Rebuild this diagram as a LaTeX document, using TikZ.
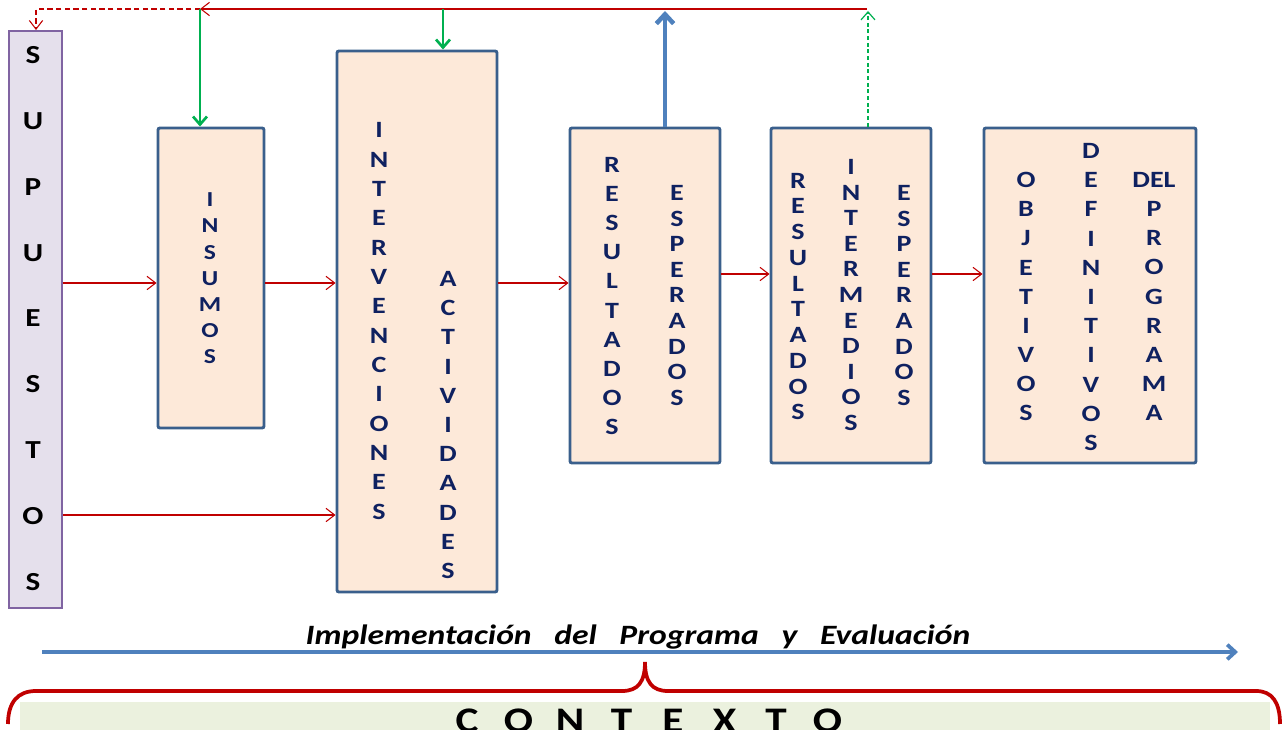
\documentclass[tikz,border=0pt]{standalone}
\usepackage{fontspec}
\setmainfont{Carlito}[FakeStretch=1.2]
\usetikzlibrary{arrows.meta,positioning,calc}
\definecolor{boxfill}{HTML}{FDE9D9}
\definecolor{boxline}{HTML}{3A5F8C}
\definecolor{supfill}{HTML}{E5E0EC}
\definecolor{supline}{HTML}{8064A2}
\definecolor{navy}{HTML}{0F2160}
\definecolor{flowred}{HTML}{C00000}
\definecolor{flowgreen}{HTML}{00B050}
\definecolor{flowblue}{HTML}{4F81BD}
\definecolor{ctxfill}{HTML}{EBF1DE}
\tikzset{
  stage/.style={draw=boxline, line width=2.2pt, fill=boxfill, rounded corners=1.5pt, inner sep=0pt},
  supbox/.style={draw=supline, line width=1.5pt, fill=supfill, inner sep=0pt},
  colstack/.style={align=center, inner sep=0pt, text=navy, font=\bfseries\fontsize{17.5}{#1}\selectfont},
  flow/.style={draw=flowred, line width=0.8pt, -{Straight Barb[length=6.5pt,width=10pt]}},
  feed/.style={draw=flowgreen, line width=2pt, -{Straight Barb[length=6pt,width=10.5pt]}},
  rise/.style={draw=flowblue, line width=3.4pt, -{Straight Barb[length=6pt,width=11pt]}},
  ctxletter/.style={anchor=north, inner sep=0pt, font=\bfseries\fontsize{27}{30}\selectfont}
}
\begin{document}
\begin{tikzpicture}[x=0.75pt, y=-0.75pt]
  \useasboundingbox (0,0) rectangle (1283,730);
  \clip (0,0) rectangle (1283,730);
  % boxes
  \node[supbox, minimum width=39.75pt, minimum height=432.75pt] (sup) at (35.5,319.5) {};
  \node[stage, minimum width=79.5pt, minimum height=225pt] (ins) at (211,278) {};
  \node[stage, minimum width=120pt, minimum height=405.75pt] (int) at (417,321.5) {};
  \node[stage, minimum width=112.5pt, minimum height=251.25pt] (res) at (645,295.5) {};
  \node[stage, minimum width=120pt, minimum height=251.25pt] (rie) at (851,295.5) {};
  \node[stage, minimum width=159pt, minimum height=251.25pt] (obj) at (1090,295.5) {};
  % vertical words
  \node[colstack=49.4pt, text=black, font=\bfseries\fontsize{19.5}{49.4}\selectfont] (supTxt) at (33,318.5) {S\\U\\P\\U\\E\\S\\T\\O\\S};
  \node[colstack=19.65pt, font=\bfseries\fontsize{16}{19.65}\selectfont] (insTxt) at (210,278.5) {I\\N\\S\\U\\M\\O\\S};
  \node[colstack=22pt] (intTxt) at (379,321) {I\\N\\T\\E\\R\\V\\E\\N\\C\\I\\O\\N\\E\\S};
  \node[colstack=21.9pt] (actTxt) at (448,425) {A\\C\\T\\I\\V\\I\\D\\A\\D\\E\\S};
  \node[colstack=21.8pt] (resTxt) at (612,296) {R\\E\\S\\U\\L\\T\\A\\D\\O\\S};
  \node[colstack=19.2pt] (espTxt) at (677,295.5) {E\\S\\P\\E\\R\\A\\D\\O\\S};
  \node[colstack=19.3pt] (rieTxtA) at (798,296.5) {R\\E\\S\\U\\L\\T\\A\\D\\O\\S};
  \node[colstack=19.2pt] (rieTxtB) at (851,295) {I\\N\\T\\E\\R\\M\\E\\D\\I\\O\\S};
  \node[colstack=19.2pt] (rieTxtC) at (904,295.5) {E\\S\\P\\E\\R\\A\\D\\O\\S};
  \node[colstack=21.8pt] (objTxtA) at (1026,296.5) {O\\B\\J\\E\\T\\I\\V\\O\\S};
  \node[colstack=21.9pt] (objTxtB) at (1091,297) {D\\E\\F\\I\\N\\I\\T\\I\\V\\O\\S};
  \node[colstack=21.8pt] (objTxtC) at (1154,296.5) {DEL\\P\\R\\O\\G\\R\\A\\M\\A};
  % forward links
  \coordinate (rowA) at (0,283);
  \coordinate (rowB) at (0,515);
  \coordinate (rowC) at (0,274);
  \draw[flow] (sup.east |- rowA) -- (ins.west |- rowA);
  \draw[flow] (ins.east |- rowA) -- (int.west |- rowA);
  \draw[flow] (sup.east |- rowB) -- (int.west |- rowB);
  \draw[flow] (int.east |- rowA) -- (res.west |- rowA);
  \draw[flow] (res.east |- rowC) -- (rie.west |- rowC);
  \draw[flow] (rie.east |- rowC) -- (obj.west |- rowC);
  % feedback loop on top
  \coordinate (loopR) at (867,9);
  \coordinate (loopI) at (200,9);
  \coordinate (loopA) at (443,9);
  \coordinate (loopS) at (36,9);
  \coordinate (upB) at (665,11);
  \coordinate (upG) at (868,11);
  \draw[flow] (loopR) -- (loopI);
  \draw[flow, dash pattern=on 4pt off 2.5pt] (loopI) -- (loopS) -- (loopS |- sup.north);
  \draw[feed] (loopI) -- (ins.north -| loopI);
  \draw[feed] (loopA) -- (int.north -| loopA);
  \draw[rise, -{Straight Barb[length=7pt,width=13pt]}] (res.north -| upB) -- (upB);
  \draw[feed, line width=0.9pt, dash pattern=on 3pt off 2pt] (rie.north -| upG) -- (upG);
  % time line
  \coordinate (tlS) at (42,652);
  \coordinate (tlE) at (1238,652);
  \draw[rise, line width=2.8pt] (tlS) -- (tlE);
  \node[font=\bfseries\itshape\fontsize{21}{25}\selectfont, inner sep=0pt] (impl) at (638,637)
    {Implementación\hskip17pt del\hskip17pt Programa\hskip17pt y\hskip17pt Evaluación};
  % context
  \draw[flowred, line width=2.8pt] (8,724) .. controls (8,702) and (18,691) .. (36,691) -- (622,691)
    .. controls (638,691) and (645,682) .. (645,662) .. controls (645,682) and (652,691) .. (668,691)
    -- (1256,691) .. controls (1272,691) and (1280,702) .. (1280,724);
  \fill[ctxfill] (20,702) rectangle (1270,735);
  \foreach \ch [count=\k from 0] in {C,O,N,T,E,X,T,O}
    \node[ctxletter] (ctx\k) at (467+51.5*\k,709) {\ch};
\end{tikzpicture}
\end{document}
